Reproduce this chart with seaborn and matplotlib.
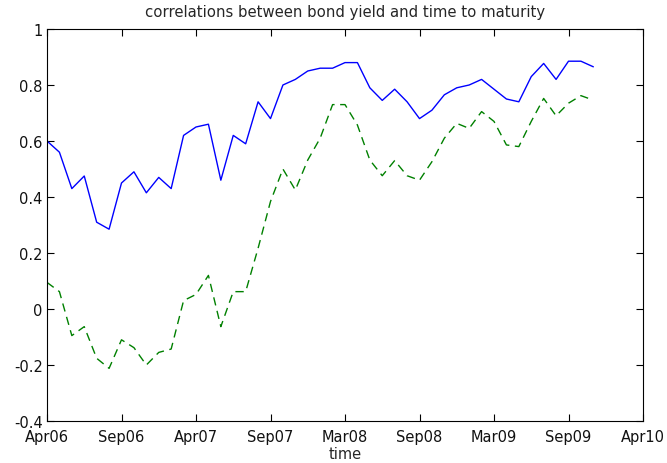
import numpy as np
import pandas as pd
import matplotlib
matplotlib.use("Agg")
import matplotlib.pyplot as plt
import seaborn as sns

# monthly observations, Apr06 .. Dec09
months = list(range(45))
corr_solid = [0.60, 0.56, 0.43, 0.475, 0.31, 0.285, 0.45, 0.49, 0.415, 0.47,
              0.43, 0.62, 0.65, 0.66, 0.46, 0.62, 0.59, 0.74, 0.68, 0.80,
              0.82, 0.85, 0.86, 0.86, 0.88, 0.88, 0.79, 0.745, 0.785, 0.74,
              0.68, 0.71, 0.765, 0.79, 0.80, 0.82, 0.785, 0.75, 0.74, 0.83,
              0.877, 0.82, 0.885, 0.885, 0.865]
corr_dashed = [0.095, 0.062, -0.095, -0.063, -0.176, -0.212, -0.11, -0.138, -0.20, -0.155,
               -0.143, 0.03, 0.052, 0.12, -0.063, 0.062, 0.062, 0.217, 0.384, 0.50,
               0.425, 0.532, 0.61, 0.73, 0.73, 0.657, 0.532, 0.476, 0.53, 0.476,
               0.46, 0.526, 0.61, 0.663, 0.645, 0.705, 0.67, 0.586, 0.58, 0.67,
               0.752, 0.69, 0.735, 0.762, 0.746]
xtick_pos = [0, 6, 12, 18, 24, 30, 36, 42, 48]
xtick_labels = ["Apr06", "Sep06", "Apr07", "Sep07", "Mar08", "Sep08", "Mar09", "Sep09", "Apr10"]
ytick_pos = [-0.4, -0.2, 0, 0.2, 0.4, 0.6, 0.8, 1.0]
ytick_labels = ["-0.4", "-0.2", "0", "0.2", "0.4", "0.6", "0.8", "1"]

df = pd.DataFrame({"month": months, "solid": corr_solid, "dashed": corr_dashed})

sns.set_style("white")
plt.rcParams["font.family"] = ["DejaVu Sans"]

fig = plt.figure(figsize=(6.67, 4.64), dpi=100)
ax = fig.add_axes([47/667, 1 - 422/464, (643 - 47)/667, (422 - 30)/464])

sns.lineplot(data=df, x="month", y="solid", ax=ax, color="#0000ff", linewidth=1.0)
sns.lineplot(data=df, x="month", y="dashed", ax=ax, color="#008000", linewidth=1.0,
             linestyle=(0, (6, 4)))

ax.set_xlim(0, 48)
ax.set_ylim(-0.4, 1.0)
ax.set_xticks(xtick_pos)
ax.set_xticklabels(xtick_labels, fontsize=10.5, color="#111111")
ax.set_yticks(ytick_pos)
ax.set_yticklabels(ytick_labels, fontsize=10.5, color="#111111")
ax.tick_params(axis="both", direction="in", length=5, width=0.8, color="black",
               top=True, right=True, bottom=True, left=True, pad=3)
ax.tick_params(axis="x", pad=6)
for s in ax.spines.values():
    s.set_visible(True)
    s.set_color("black")
    s.set_linewidth(0.8)

ax.set_xlabel("time", fontsize=10.5, labelpad=1)
ax.set_ylabel("")
ax.set_title("correlations between bond yield and time to maturity", fontsize=10.7, pad=9)

fig.savefig("out.png", dpi=100)
